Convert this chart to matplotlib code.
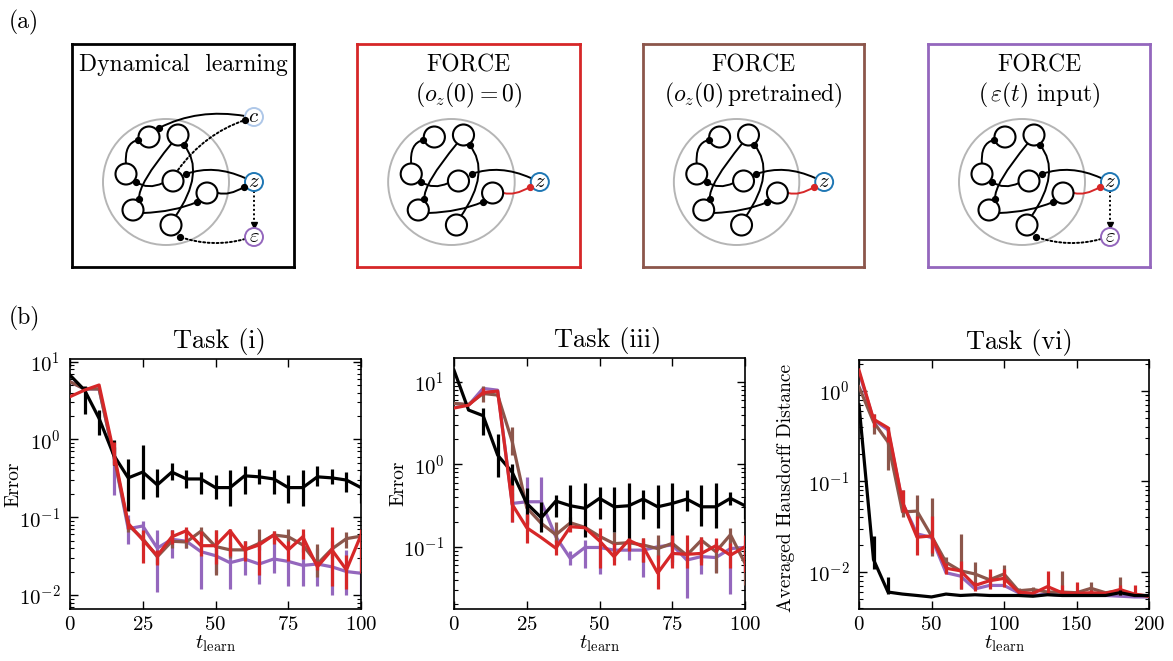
import numpy as np
import matplotlib.pyplot as plt
from matplotlib.patches import Circle, PathPatch
from matplotlib.path import Path

plt.rcParams['font.family'] = 'serif'
plt.rcParams['font.serif'] = ['cmr10']
plt.rcParams['mathtext.fontset'] = 'cm'
plt.rcParams['axes.formatter.use_mathtext'] = True

RED = '#d62728'
BROWN = '#8c564b'
PURPLE = '#9467bd'
BLUE = '#1f77b4'
LIGHTBLUE = '#aec7e8'

# ---------------- data, panel (b) ----------------
t_a = np.arange(0, 101, 5)
t_c = np.arange(0, 201, 10)

# Task (i)
black1 = [6.7, 4.3, 1.86, 0.63, 0.32, 0.38, 0.26, 0.38, 0.31, 0.31, 0.24, 0.24, 0.34, 0.33, 0.31, 0.24, 0.24, 0.33, 0.32, 0.30, 0.24]
black1_lo = [6.7, 2.1, 1.14, 0.47, 0.12, 0.17, 0.18, 0.30, 0.24, 0.20, 0.17, 0.14, 0.20, 0.27, 0.20, 0.15, 0.14, 0.25, 0.27, 0.21, 0.15]
black1_hi = [6.7, 4.8, 2.4, 0.98, 0.56, 0.85, 0.42, 0.49, 0.40, 0.38, 0.35, 0.40, 0.45, 0.42, 0.40, 0.35, 0.40, 0.45, 0.42, 0.38, 0.35]
red1 = [3.54, 4.3, 5.0, 0.69, 0.083, 0.051, 0.032, 0.056, 0.067, 0.043, 0.043, 0.067, 0.038, 0.044, 0.059, 0.038, 0.056, 0.023, 0.038, 0.021, 0.059]
red1_lo = [3.54, 4.3, 5.0, 0.47, 0.07, 0.026, 0.024, 0.045, 0.048, 0.032, 0.025, 0.032, 0.027, 0.018, 0.045, 0.027, 0.029, 0.021, 0.013, 0.012, 0.019]
red1_hi = [3.54, 4.3, 5.0, 0.93, 0.09, 0.068, 0.038, 0.068, 0.075, 0.066, 0.068, 0.07, 0.05, 0.05, 0.066, 0.05, 0.07, 0.027, 0.075, 0.033, 0.07]
brown1 = [5.5, 4.45, 4.45, 0.63, 0.079, 0.053, 0.031, 0.049, 0.048, 0.066, 0.042, 0.038, 0.038, 0.046, 0.059, 0.056, 0.044, 0.025, 0.039, 0.053, 0.057]
brown1_lo = [5.5, 4.45, 4.45, 0.5, 0.065, 0.042, 0.025, 0.04, 0.04, 0.05, 0.018, 0.03, 0.03, 0.038, 0.05, 0.045, 0.036, 0.017, 0.03, 0.04, 0.05]
brown1_hi = [5.5, 4.45, 4.45, 0.8, 0.095, 0.065, 0.037, 0.068, 0.06, 0.075, 0.068, 0.048, 0.05, 0.07, 0.066, 0.07, 0.06, 0.045, 0.05, 0.065, 0.065]
purple1 = [5.5, 4.45, 4.45, 0.63, 0.071, 0.077, 0.040, 0.052, 0.049, 0.036, 0.032, 0.026, 0.029, 0.025, 0.029, 0.027, 0.024, 0.025, 0.023, 0.020, 0.019]
purple1_lo = [5.5, 4.45, 4.45, 0.19, 0.045, 0.06, 0.011, 0.03, 0.04, 0.012, 0.019, 0.012, 0.018, 0.014, 0.019, 0.013, 0.013, 0.013, 0.010, 0.0101, 0.0099]
purple1_hi = [5.5, 4.45, 4.45, 0.80, 0.106, 0.09, 0.068, 0.068, 0.071, 0.062, 0.05, 0.055, 0.05, 0.05, 0.05, 0.04, 0.04, 0.04, 0.04, 0.038, 0.038]

# Task (iii)
black2 = [13.8, 4.54, 3.88, 1.29, 0.80, 0.335, 0.225, 0.358, 0.314, 0.292, 0.386, 0.305, 0.314, 0.378, 0.305, 0.335, 0.378, 0.305, 0.305, 0.386, 0.314]
black2_lo = [13.8, 4.54, 2.26, 0.705, 0.32, 0.19, 0.15, 0.23, 0.18, 0.13, 0.22, 0.15, 0.095, 0.22, 0.17, 0.10, 0.27, 0.18, 0.17, 0.32, 0.22]
black2_hi = [13.8, 4.54, 4.75, 2.32, 1.0, 0.51, 0.35, 0.42, 0.56, 0.59, 0.53, 0.53, 0.59, 0.49, 0.56, 0.59, 0.49, 0.56, 0.59, 0.46, 0.38]
red2 = [4.8, 5.2, 7.4, 7.7, 0.326, 0.170, 0.129, 0.096, 0.175, 0.170, 0.118, 0.076, 0.12, 0.100, 0.048, 0.083, 0.081, 0.083, 0.103, 0.079, 0.100]
red2_lo = [4.8, 5.2, 6.9, 7.7, 0.2, 0.11, 0.129, 0.08, 0.15, 0.170, 0.055, 0.06, 0.09, 0.066, 0.031, 0.055, 0.055, 0.06, 0.087, 0.055, 0.05]
red2_hi = [4.8, 5.2, 8.3, 7.7, 0.56, 0.25, 0.129, 0.12, 0.18, 0.170, 0.17, 0.11, 0.126, 0.126, 0.079, 0.14, 0.14, 0.13, 0.126, 0.11, 0.14]
brown2 = [5.46, 5.3, 7.2, 6.9, 1.88, 0.297, 0.192, 0.14, 0.195, 0.172, 0.134, 0.109, 0.112, 0.105, 0.095, 0.11, 0.079, 0.12, 0.087, 0.14, 0.063]
brown2_lo = [5.46, 5.3, 5.7, 6.9, 1.29, 0.297, 0.192, 0.115, 0.17, 0.172, 0.134, 0.079, 0.112, 0.066, 0.066, 0.066, 0.079, 0.066, 0.048, 0.095, 0.034]
brown2_hi = [5.46, 5.3, 9.0, 6.9, 2.85, 0.297, 0.192, 0.2, 0.23, 0.172, 0.134, 0.15, 0.112, 0.126, 0.14, 0.145, 0.079, 0.13, 0.115, 0.17, 0.095]
purple2 = [5.46, 5.2, 8.3, 7.9, 0.335, 0.351, 0.351, 0.132, 0.072, 0.098, 0.098, 0.091, 0.091, 0.091, 0.10, 0.105, 0.069, 0.076, 0.074, 0.095, 0.098]
purple2_lo = [5.46, 5.2, 8.3, 7.9, 0.2, 0.18, 0.19, 0.1, 0.06, 0.055, 0.047, 0.07, 0.07, 0.043, 0.07, 0.06, 0.0236, 0.047, 0.05, 0.0264, 0.05]
purple2_hi = [5.46, 5.2, 8.3, 7.9, 0.45, 0.7, 0.7, 0.16, 0.09, 0.12, 0.11, 0.11, 0.11, 0.12, 0.12, 0.16, 0.095, 0.11, 0.1, 0.12, 0.12]

# Task (vi)
black3 = [0.7, 0.0137, 0.006, 0.0057, 0.0055, 0.0053, 0.0057, 0.0055, 0.0056, 0.0055, 0.0055, 0.0055, 0.0054, 0.0056, 0.0055, 0.0055, 0.0055, 0.0055, 0.0059, 0.0055, 0.0055]
black3_lo = [0.7, 0.0108, 0.0057, 0.0057, 0.0055, 0.0053, 0.0057, 0.0055, 0.0056, 0.0055, 0.0055, 0.0055, 0.0054, 0.0056, 0.0055, 0.0055, 0.0055, 0.0055, 0.0056, 0.0055, 0.0055]
black3_hi = [0.7, 0.025, 0.0088, 0.0057, 0.0055, 0.0053, 0.0057, 0.0055, 0.0056, 0.0055, 0.0055, 0.0055, 0.0054, 0.0056, 0.0055, 0.0055, 0.0055, 0.0055, 0.0063, 0.0055, 0.0055]
red3 = [1.69, 0.486, 0.39, 0.059, 0.0242, 0.025, 0.011, 0.0103, 0.0071, 0.008, 0.0085, 0.006, 0.0058, 0.0069, 0.0059, 0.0058, 0.0059, 0.0058, 0.0064, 0.0057, 0.0054]
red3_lo = [1.69, 0.4, 0.27, 0.046, 0.0152, 0.0162, 0.0095, 0.0065, 0.0062, 0.0065, 0.0068, 0.0055, 0.0058, 0.0055, 0.0055, 0.0055, 0.0055, 0.0058, 0.0059, 0.0055, 0.0054]
red3_hi = [1.69, 0.56, 0.40, 0.08, 0.042, 0.042, 0.0125, 0.0133, 0.0077, 0.0108, 0.0108, 0.0064, 0.0058, 0.0103, 0.0071, 0.0078, 0.0064, 0.0058, 0.0071, 0.0071, 0.0054]
brown3 = [1.11, 0.454, 0.272, 0.046, 0.047, 0.025, 0.0128, 0.0103, 0.0095, 0.0082, 0.0095, 0.0062, 0.0064, 0.006, 0.006, 0.0059, 0.0066, 0.0059, 0.0062, 0.0056, 0.0054]
brown3_lo = [1.11, 0.33, 0.132, 0.04, 0.033, 0.015, 0.011, 0.0065, 0.0071, 0.0075, 0.0077, 0.0058, 0.006, 0.0057, 0.0055, 0.0059, 0.0055, 0.0059, 0.0055, 0.0056, 0.0054]
brown3_hi = [1.11, 0.56, 0.4, 0.08, 0.07, 0.065, 0.0145, 0.026, 0.0128, 0.0095, 0.0118, 0.0066, 0.0068, 0.0064, 0.0103, 0.0059, 0.0078, 0.0059, 0.0087, 0.0056, 0.0054]
purple3 = [1.6, 0.48, 0.37, 0.058, 0.0264, 0.024, 0.0098, 0.009, 0.0065, 0.0071, 0.0071, 0.0059, 0.0055, 0.0057, 0.0055, 0.0055, 0.0055, 0.0055, 0.0054, 0.0053, 0.0053]

# ---------------- network sketch, panel (a) ----------------
# box-relative pixel geometry of the schematic network (y points down)
neurons = [(77, 93), (106, 91), (54, 130), (101, 137), (135, 149), (61, 166), (99, 181)]
node_c, node_z, node_e = (182, 73), (182, 138), (182, 193)
# recurrent connections: (start, control, end) quadratic curves, synapse dot at end
recurrent = [((54, 121), (52, 99), (66, 96)),
             ((91, 139), (76, 146), (64, 138)),
             ((100, 99), (66, 140), (67, 155)),
             ((103, 173), (134, 128), (112, 101)),
             ((71, 169), (102, 168), (125, 158))]
feedback = ((173, 134), (142, 120), (114, 130))
readout = ((146, 149), (157, 152), (172, 143))
c_in = ((173, 72), (126, 64), (87, 84))
c_dotted = ((106, 126), (132, 90), (173, 76))
e_in = ((173, 195), (141, 204), (108, 193))

fig = plt.figure(figsize=(11.73, 6.61), dpi=100)
W, H = 1173, 661


def fig_axes(left, top, right, bottom):
    return fig.add_axes([left / W, 1 - bottom / H, (right - left) / W, (bottom - top) / H])


def curve(ax, pts, color='black', ls='-', dot=True, lw=1.4):
    path = Path(pts, [Path.MOVETO, Path.CURVE3, Path.CURVE3])
    ax.add_patch(PathPatch(path, fc='none', ec=color, lw=lw, ls=ls, zorder=2, capstyle='round'))
    if dot:
        ax.plot(pts[2][0], pts[2][1], 'o', color=color, ms=4.2, zorder=5)


def out_node(ax, xy, label, ec):
    ax.add_patch(Circle(xy, 9, fc='white', ec=ec, lw=1.4, zorder=4))
    ax.text(xy[0], xy[1] + 0.5, label, ha='center', va='center', fontsize=15, zorder=6)


def sketch(ax, title, sub, edge, dyn=False, err=False):
    ax.set_xlim(0, 222)
    ax.set_ylim(223, 0)
    ax.set_xticks([])
    ax.set_yticks([])
    for s in ax.spines.values():
        s.set_color(edge)
        s.set_linewidth(2.0)
    ax.text(111, 21, title, ha='center', va='center', fontsize=17)
    if sub is not None:
        ax.text(111, 51, sub, ha='center', va='center', fontsize=17)
    ax.add_patch(Circle((94, 138), 63, fc='none', ec='#b5b5b5', lw=1.4, zorder=1))
    for xy in neurons:
        ax.add_patch(Circle(xy, 10.5, fc='white', ec='black', lw=1.5, zorder=3))
    for pts in recurrent:
        curve(ax, pts)
    curve(ax, feedback)
    curve(ax, readout, color='black' if dyn else RED)
    out_node(ax, node_z, '$z$', BLUE)
    if dyn:
        curve(ax, c_in)
        curve(ax, c_dotted, ls=(0, (1, 1.3)))
        out_node(ax, node_c, '$c$', LIGHTBLUE)
    if dyn or err:
        ax.plot([node_z[0], node_z[0]], [node_z[1] + 9, node_e[1] - 13], color='black',
                lw=1.4, ls=(0, (1, 1.3)), zorder=2)
        ax.plot(node_z[0], node_e[1] - 12, marker='v', color='black', ms=4.5, zorder=2)
        curve(ax, e_in, ls=(0, (1, 1.3)))
        out_node(ax, node_e, r'$\varepsilon$', PURPLE)


sketch(fig_axes(72, 44, 294, 267), 'Dynamical  learning', None, 'black', dyn=True)
sketch(fig_axes(357, 44, 580, 267), 'FORCE', r'$(o_z(0) = 0)$', RED)
sketch(fig_axes(643, 44, 864, 267), 'FORCE', r'$(o_z(0)\,$pretrained$)$', BROWN)
sketch(fig_axes(928, 44, 1150, 267), 'FORCE', r'$(\,\varepsilon(t)$ input$)$', PURPLE, err=True)

fig.text(24 / W, 1 - 22 / H, '(a)', ha='center', va='center', fontsize=17)
fig.text(24 / W, 1 - 318 / H, '(b)', ha='center', va='center', fontsize=17)

# ---------------- panel (b) ----------------
ax1 = fig_axes(70, 359, 361, 609)
ax2 = fig_axes(454, 358, 745, 609)
ax3 = fig_axes(859, 360, 1149, 609)


def series(ax, t, y, lo, hi, color, z):
    y = np.array(y)
    if lo is None:
        ax.plot(t, y, color=color, lw=2.3, zorder=z)
        return
    err = [y - np.array(lo), np.array(hi) - y]
    ax.errorbar(t, y, yerr=err, color=color, lw=2.3, elinewidth=2.3, capsize=0, zorder=z)


series(ax1, t_a, purple1, purple1_lo, purple1_hi, PURPLE, 2)
series(ax1, t_a, brown1, brown1_lo, brown1_hi, BROWN, 3)
series(ax1, t_a, black1, black1_lo, black1_hi, 'black', 4)
series(ax1, t_a, red1, red1_lo, red1_hi, RED, 5)

series(ax2, t_a, purple2, purple2_lo, purple2_hi, PURPLE, 2)
series(ax2, t_a, brown2, brown2_lo, brown2_hi, BROWN, 3)
series(ax2, t_a, black2, black2_lo, black2_hi, 'black', 4)
series(ax2, t_a, red2, red2_lo, red2_hi, RED, 5)

series(ax3, t_c, purple3, None, None, PURPLE, 2)
series(ax3, t_c, brown3, brown3_lo, brown3_hi, BROWN, 3)
series(ax3, t_c, red3, red3_lo, red3_hi, RED, 4)
series(ax3, t_c, black3, black3_lo, black3_hi, 'black', 5)

ax1.set_ylim(0.0066, 10.8)
ax2.set_ylim(0.0176, 19.4)
ax3.set_ylim(0.0039, 2.19)
ax1.set_xlim(0, 100)
ax2.set_xlim(0, 100)
ax3.set_xlim(0, 200)
ax1.set_xticks([0, 25, 50, 75, 100])
ax2.set_xticks([0, 25, 50, 75, 100])
ax3.set_xticks([0, 50, 100, 150, 200])

titles = ['Task (i)', 'Task (iii)', 'Task (vi)']
title_x = [0.515, 0.529, 0.552]
for ax, title, tx in zip([ax1, ax2, ax3], titles, title_x):
    ax.set_yscale('log')
    ax.set_title(title, fontsize=19, pad=8, x=tx)
    ax.tick_params(which='both', direction='in', top=True, right=True, labelsize=15)
    ax.tick_params(which='major', length=5.5, width=1)
    ax.tick_params(which='minor', length=3, width=0.8)
    ax.tick_params(axis='y', pad=7)
    ax.tick_params(axis='x', pad=5)
    ax.set_xlabel(r'$t_\mathrm{learn}$', fontsize=15, labelpad=0)
    for s in ax.spines.values():
        s.set_linewidth(1.2)

ax1.set_ylabel('Error', fontsize=14)
ax2.set_ylabel('Error', fontsize=14)
ax3.set_ylabel('Averaged Hausdorff Distance', fontsize=14)
ax1.yaxis.set_label_coords(-0.162, 0.5)
ax2.yaxis.set_label_coords(-0.16, 0.5)
ax3.yaxis.set_label_coords(-0.22, 0.486)

fig.savefig('out.png', dpi=100)
